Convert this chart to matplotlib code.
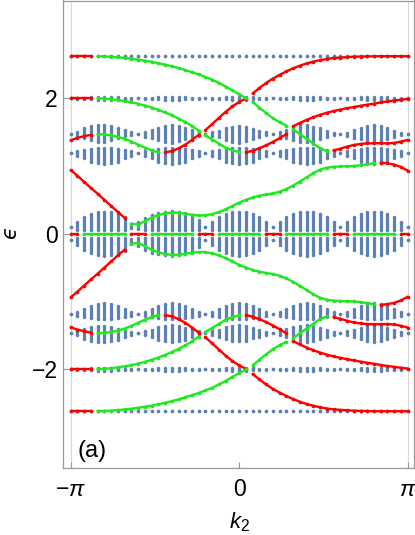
import numpy as np
import matplotlib
matplotlib.use("Agg")
import matplotlib.pyplot as plt

plt.rcParams['mathtext.fontset'] = 'custom'
plt.rcParams['mathtext.rm'] = 'Liberation Sans'
plt.rcParams['mathtext.it'] = 'Liberation Sans:italic'
plt.rcParams['font.family'] = ['Liberation Sans', 'DejaVu Sans']

# ---------------- data ----------------
n_k = 51
k_vals = np.linspace(-np.pi, np.pi, n_k)

# flat bulk levels (upper half; spectrum is symmetric in epsilon)
flat_top = 2.62
flat_two = 2.0
two_half = [0.0, 0.005, 0.01, 0.015, 0.02, 0.02, 0.02, 0.015, 0.01, 0.005,
            0.0, 0.005, 0.01, 0.015, 0.02, 0.02, 0.02, 0.015, 0.01, 0.005,
            0.0, 0.005, 0.01, 0.015, 0.02, 0.02, 0.02, 0.015, 0.01, 0.005,
            0.0, 0.005, 0.01, 0.015, 0.02, 0.02, 0.02, 0.015, 0.01, 0.005,
            0.0, 0.005, 0.01, 0.015, 0.02, 0.02, 0.02, 0.015, 0.01, 0.005, 0.0]

# band A (~1.47): top / bottom of the dot column at each k
bandA_top = [1.467, 1.50, 1.555, 1.59, 1.604, 1.604, 1.59, 1.565, 1.531, 1.501,
             1.467, 1.501, 1.531, 1.565, 1.59, 1.604, 1.59, 1.565, 1.531, 1.50,
             1.467, 1.50, 1.521, 1.555, 1.58, 1.59, 1.58, 1.541, 1.521, 1.501,
             1.467, 1.50, 1.53, 1.58, 1.59, 1.60, 1.58, 1.555, 1.521, 1.491,
             1.467, 1.491, 1.531, 1.555, 1.59, 1.604, 1.59, 1.555, 1.521, 1.491, 1.467]
bandA_bot = [1.467, 1.44, 1.408, 1.383, 1.358, 1.358, 1.383, 1.408, 1.442, 1.452,
             1.467, 1.432, 1.417, 1.383, 1.358, 1.343, 1.368, 1.393, 1.422, 1.44,
             1.467, 1.44, 1.422, 1.383, 1.358, 1.343, 1.368, 1.393, 1.422, 1.452,
             1.467, 1.44, 1.41, 1.383, 1.358, 1.353, 1.373, 1.393, 1.422, 1.452,
             1.467, 1.442, 1.417, 1.393, 1.358, 1.349, 1.368, 1.393, 1.422, 1.452, 1.467]

# band B (~1.19)
bandB_top = [1.187, 1.221, 1.235, 1.25, 1.26, 1.26, 1.26, 1.25, 1.235, 1.221,
             1.187, 1.221, 1.235, 1.25, 1.26, 1.26, 1.26, 1.25, 1.235, 1.221,
             1.187, 1.221, 1.235, 1.25, 1.26, 1.26, 1.26, 1.25, 1.235, 1.221,
             1.187, 1.221, 1.235, 1.25, 1.26, 1.26, 1.26, 1.25, 1.235, 1.221,
             1.187, 1.221, 1.235, 1.25, 1.26, 1.26, 1.26, 1.25, 1.235, 1.221, 1.187]
bandB_bot = [1.187, 1.152, 1.113, 1.063, 1.039, 1.024, 1.039, 1.063, 1.113, 1.152,
             1.187, 1.152, 1.113, 1.063, 1.039, 1.024, 1.039, 1.063, 1.113, 1.152,
             1.187, 1.152, 1.113, 1.063, 1.039, 1.024, 1.039, 1.063, 1.113, 1.152,
             1.187, 1.152, 1.113, 1.063, 1.039, 1.024, 1.039, 1.063, 1.113, 1.152,
             1.187, 1.152, 1.113, 1.063, 1.039, 1.024, 1.039, 1.063, 1.113, 1.152, 1.187]

# central band (upper part; mirrored below)
core_top = [0.10, 0.17, 0.24, 0.29, 0.315, 0.325, 0.315, 0.29, 0.25, 0.15,
            0.18, 0.235, 0.28, 0.305, 0.32, 0.33, 0.32, 0.305, 0.27, 0.20,
            0.10, 0.17, 0.24, 0.29, 0.315, 0.325, 0.315, 0.29, 0.24, 0.17,
            0.10, 0.17, 0.24, 0.29, 0.315, 0.325, 0.315, 0.29, 0.24, 0.17,
            0.10, 0.17, 0.24, 0.29, 0.315, 0.325, 0.315, 0.29, 0.24, 0.17, 0.10]
core_bot = [0.10, 0.06, 0.06, 0.06, 0.06, 0.06, 0.06, 0.06, 0.06, 0.08,
            0.07, 0.06, 0.06, 0.06, 0.06, 0.06, 0.06, 0.06, 0.06, 0.06,
            0.10, 0.06, 0.06, 0.06, 0.06, 0.06, 0.06, 0.06, 0.06, 0.06,
            0.10, 0.06, 0.06, 0.06, 0.06, 0.06, 0.06, 0.06, 0.06, 0.06,
            0.10, 0.06, 0.06, 0.06, 0.06, 0.06, 0.06, 0.06, 0.06, 0.06, 0.10]

# edge-state branches, upper half (start index, energies); mirrored below
red_branches = [
    (0, [2.62, 2.62, 2.62, 2.62]),
    (27, [2.07, 2.15, 2.225, 2.29, 2.345, 2.395, 2.44, 2.48, 2.513, 2.54, 2.562,
          2.58, 2.592, 2.60, 2.607, 2.612, 2.615, 2.617, 2.619, 2.62, 2.62, 2.62,
          2.62, 2.62]),
    (0, [2.0, 2.0, 2.0, 2.0]),
    (20, [1.53, 1.62, 1.71, 1.80, 1.88, 1.945, 1.995]),
    (33, [1.585, 1.635, 1.68, 1.72, 1.755, 1.785, 1.81, 1.832, 1.852, 1.87,
          1.888, 1.905, 1.92, 1.937, 1.952, 1.966, 1.978, 1.99]),
    (0, [1.38, 1.415, 1.44, 1.46]),
    (14, [1.20, 1.22, 1.26, 1.315, 1.385, 1.46]),
    (26, [1.20, 1.225, 1.26, 1.305, 1.355, 1.41, 1.47]),
    (39, [1.23, 1.255, 1.285, 1.31, 1.325, 1.333, 1.336, 1.335, 1.333, 1.34,
          1.36, 1.385]),
    (0, [0.94, 0.855, 0.765, 0.675, 0.59, 0.50, 0.41, 0.32, 0.235]),
    (46, [1.05, 1.04, 1.02, 0.985, 0.93]),
]
green_branches = [
    (4, [2.62, 2.617, 2.611, 2.603, 2.594, 2.583, 2.57, 2.554, 2.537, 2.517,
         2.496, 2.472, 2.445, 2.415, 2.384, 2.35, 2.313, 2.272, 2.225, 2.172,
         2.115, 2.058, 2.0]),
    (4, [1.998, 1.993, 1.985, 1.973, 1.958, 1.94, 1.918, 1.892, 1.862, 1.828,
         1.79, 1.747, 1.70, 1.648, 1.59, 1.52]),
    (27, [1.945, 1.86, 1.78, 1.705, 1.645, 1.595]),
    (4, [1.47, 1.465, 1.45, 1.43, 1.40, 1.36, 1.315, 1.27, 1.23, 1.20]),
    (20, [1.45, 1.39, 1.33, 1.27, 1.23, 1.205]),
    (33, [1.54, 1.47, 1.40, 1.33, 1.26, 1.22]),
    (9, [0.15, 0.135, 0.185, 0.235, 0.275, 0.30, 0.313, 0.31, 0.295, 0.28,
         0.27, 0.272, 0.29, 0.32, 0.36, 0.41, 0.46, 0.50, 0.535, 0.56, 0.58,
         0.595, 0.62, 0.66, 0.71, 0.77, 0.83, 0.895, 0.945, 0.975, 0.988,
         0.993, 0.997, 1.0, 1.01, 1.025, 1.04]),
]
# zero-energy line: colour of each k sample
zero_red_runs = [(0, 1), (9, 11), (19, 21), (29, 31), (39, 41), (49, 50)]
zero_green_runs = [(2, 8), (12, 18), (22, 28), (32, 38), (42, 48)]

# ---------------- drawing ----------------
BLUE = '#5e81b5'
RED = '#ff0000'
GREEN = '#1ee81e'

fig = plt.figure(figsize=(4.15, 5.35), dpi=100)
ax = fig.add_axes([63 / 415, 1 - 468 / 535, (414 - 63) / 415, 467.5 / 535])

dot_ms = 2.5  # points
bar_lw = 2.3


def bars(top, bot):
    top = np.asarray(top, float)
    bot = np.asarray(bot, float)
    for sgn in (1, -1):
        ax.vlines(k_vals, sgn * bot, sgn * top, colors=BLUE, lw=bar_lw, zorder=2)
        ax.plot(k_vals, sgn * top, 'o', ms=dot_ms, color=BLUE, mec='none', zorder=2)
        ax.plot(k_vals, sgn * bot, 'o', ms=dot_ms, color=BLUE, mec='none', zorder=2)


two_half_a = np.asarray(two_half)
bars(flat_top + 0 * two_half_a, flat_top + 0 * two_half_a)
bars(flat_two + two_half_a, flat_two - two_half_a)
bars(bandA_top, bandA_bot)
bars(bandB_top, bandB_bot)
bars(core_top, core_bot)

line_kw = dict(lw=1.7, marker='o', ms=2.6, mec='none', zorder=3,
               solid_capstyle='round')
for start, vals in red_branches:
    kk = k_vals[start:start + len(vals)]
    v = np.asarray(vals)
    ax.plot(kk, v, color=RED, mfc=RED, **line_kw)
    ax.plot(kk, -v, color=RED, mfc=RED, **line_kw)
for start, vals in green_branches:
    kk = k_vals[start:start + len(vals)]
    v = np.asarray(vals)
    ax.plot(kk, v, color=GREEN, mfc=GREEN, **line_kw)
    ax.plot(kk, -v, color=GREEN, mfc=GREEN, **line_kw)
for a, b in zero_red_runs:
    kk = k_vals[a:b + 1]
    ax.plot(kk, np.zeros_like(kk), color=RED, mfc=RED, **line_kw)
for a, b in zero_green_runs:
    kk = k_vals[a:b + 1]
    ax.plot(kk, np.zeros_like(kk), color=GREEN, mfc=GREEN, **line_kw)

# grid lines
for xv in (-np.pi, np.pi):
    ax.axvline(xv, color='#d8d8d8', lw=0.8, zorder=0)
ax.axhline(0, color='#d8d8d8', lw=0.8, zorder=0)

ax.set_xlim(-3.285, 3.259)
ax.set_ylim(-3.458, 3.442)

for sp in ax.spines.values():
    sp.set_color('#999999')
    sp.set_linewidth(0.9)

ax.set_xticks([-np.pi, 0, np.pi])
ax.set_xticklabels([r'$-\pi$', '0', r'$\pi$'])
ax.set_yticks([-2, 0, 2])
ax.set_yticklabels(['\u22122', '0', '2'])
ax.tick_params(direction='in', length=4, width=0.8, color='#999999',
               labelsize=16.5, labelcolor='black')
ax.tick_params(axis='x', pad=7)
ax.tick_params(axis='y', pad=4)

fig.text(239 / 415, 1 - 522 / 535, r'$k_2$', fontsize=16, ha='center',
         va='center')
fig.text(10 / 415, 1 - 233 / 535, '\u03f5', fontsize=15, family='DejaVu Sans',
         style='italic', rotation=90, ha='center', va='center')

ax.text(0.042, 0.012, '(a)', transform=ax.transAxes, fontsize=17,
        ha='left', va='bottom')

fig.savefig('out.png', dpi=100)
